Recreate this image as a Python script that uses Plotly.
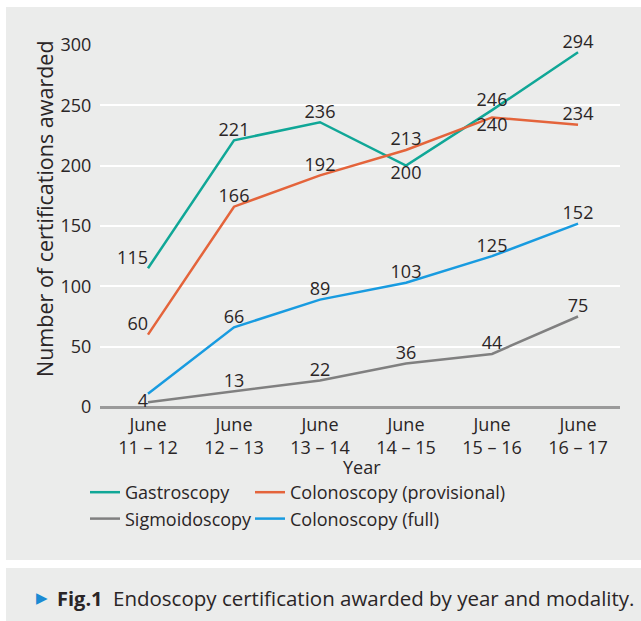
import plotly.graph_objects as go

categories = ["June<br>11 – 12", "June<br>12 – 13", "June<br>13 – 14",
              "June<br>14 – 15", "June<br>15 – 16", "June<br>16 – 17"]
gastroscopy = [115, 221, 236, 200, 246, 294]
colonoscopy_prov = [60, 166, 192, 213, 240, 234]
sigmoidoscopy = [4, 13, 22, 36, 44, 75]
colonoscopy_full = [11, 66, 89, 103, 125, 152]
y_ticks = [0, 50, 100, 150, 200, 250, 300]
x_title = "Year"
y_title = "Number of certifications awarded"

FONT = "Open Sans"
TXT = "#2a2526"
BG = "#ebeceb"

W, H = 641, 621
L, R, T, B = 100, 21, 45, 214
pw, ph = W - L - R, H - T - B


def px(x):
    return (x - L) / pw


def py(y):
    return (H - B - y) / ph


def labels(vals, skip=()):
    return ["" if i in skip else str(v) for i, v in enumerate(vals)]


fig = go.Figure()
fig.add_trace(go.Scatter(
    x=categories, y=gastroscopy, name="Gastroscopy", mode="lines+text",
    line=dict(color="#10a797", width=2.5),
    text=labels(gastroscopy),
    textposition=["top left", "top center", "top center", "bottom center", "top center", "top center"],
    legend="legend", cliponaxis=False))
fig.add_trace(go.Scatter(
    x=categories, y=colonoscopy_prov, name="Colonoscopy (provisional)", mode="lines+text",
    line=dict(color="#e4643b", width=2.5),
    text=labels(colonoscopy_prov),
    textposition=["top left", "top center", "top center", "top center", "bottom center", "top center"],
    legend="legend2", cliponaxis=False))
fig.add_trace(go.Scatter(
    x=categories, y=sigmoidoscopy, name="Sigmoidoscopy", mode="lines+text",
    line=dict(color="#808080", width=2.5),
    text=labels(sigmoidoscopy),
    textposition=["middle left", "top center", "top center", "top center", "top center", "top center"],
    legend="legend", cliponaxis=False))
fig.add_trace(go.Scatter(
    x=categories, y=colonoscopy_full, name="Colonoscopy (full)", mode="lines+text",
    line=dict(color="#189be0", width=2.5),
    text=labels(colonoscopy_full, skip=(0,)),
    textposition="top center",
    legend="legend2", cliponaxis=False))

fig.update_traces(textfont=dict(family=FONT, size=18, color=TXT), hoverinfo="skip")

shapes = [
    dict(type="rect", xref="paper", yref="paper", layer="below",
         x0=px(6), x1=px(641), y0=py(560), y1=py(7),
         fillcolor=BG, line=dict(width=0)),
    dict(type="rect", xref="paper", yref="paper", layer="below",
         x0=px(6), x1=px(641), y0=py(621), y1=py(568),
         fillcolor=BG, line=dict(width=0)),
]

cap_y = py(598)
annotations = [
    dict(xref="paper", yref="paper", x=px(362), y=py(467), xanchor="center", yanchor="middle",
         showarrow=False, text=x_title, font=dict(family=FONT, size=18, color=TXT)),
    dict(xref="paper", yref="paper", x=px(45), y=py(209), xanchor="center", yanchor="middle",
         showarrow=False, text=y_title, textangle=-90,
         font=dict(family=FONT, size=21.5, color=TXT)),
    dict(xref="paper", yref="paper", x=px(34), y=cap_y, xanchor="left", yanchor="middle",
         showarrow=False, text="▶", font=dict(family="DejaVu Sans", size=15, color="#1a8bd3")),
    dict(xref="paper", yref="paper", x=px(55), y=cap_y, xanchor="left", yanchor="middle",
         showarrow=False, text="<b>Fig.1</b>", font=dict(family=FONT, size=20, color=TXT)),
    dict(xref="paper", yref="paper", x=px(111), y=cap_y, xanchor="left", yanchor="middle",
         showarrow=False, text="Endoscopy certification awarded by year and modality.",
         font=dict(family=FONT, size=20.5, color=TXT)),
]

fig.update_layout(
    width=W, height=H,
    margin=dict(l=L, r=R, t=T, b=B),
    paper_bgcolor="white", plot_bgcolor=BG,
    font=dict(family=FONT, size=18, color=TXT),
    shapes=shapes,
    annotations=annotations,
    showlegend=True,
    hovermode=False,
    legend=dict(x=px(85), y=py(474), xanchor="left", yanchor="top",
                bgcolor="rgba(0,0,0,0)", font=dict(size=18, color=TXT),
                tracegroupgap=0, itemwidth=30),
    legend2=dict(x=px(250), y=py(474), xanchor="left", yanchor="top",
                 bgcolor="rgba(0,0,0,0)", font=dict(size=18, color=TXT),
                 tracegroupgap=0, itemwidth=30),
    xaxis=dict(type="category", range=[-0.558, 5.488], showgrid=False,
               showline=False, ticks="outside", ticklen=1, tickcolor="rgba(0,0,0,0)",
               tickfont=dict(size=18, color=TXT)),
    yaxis=dict(range=[0, 300], tickvals=y_ticks, showgrid=True, gridcolor="white",
               gridwidth=2, zeroline=True, zerolinecolor="#9a9a9a", zerolinewidth=2.5,
               showline=False, ticks="outside", ticklen=4, tickcolor="rgba(0,0,0,0)",
               tickfont=dict(size=18, color=TXT)),
)

fig.write_html("out.html", config={"displayModeBar": False},
               post_script="document.body.style.margin='0';")
